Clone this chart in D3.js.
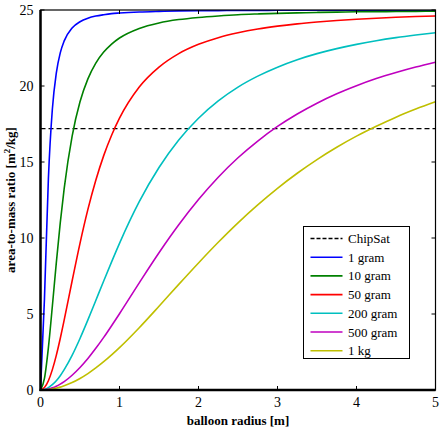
<!DOCTYPE html>
<html><head><meta charset="utf-8">
<script src="https://cdn.jsdelivr.net/npm/d3@7"></script>
<style>body{margin:0;background:#fff}svg{display:block}</style>
</head><body><svg id="c" width="442" height="430" font-family="Times New Roman"></svg>
<script>
const radius = [0,0.05,0.1,0.15,0.2,0.25,0.3,0.4,0.5,0.6,0.7,0.8,0.9,1.0,1.25,1.5,1.75,2.0,2.25,2.5,2.75,3.0,3.25,3.5,3.75,4.0,4.25,4.5,4.75,5.0];
const gram1   = [0,5.98,13.92,18.47,20.85,22.18,22.97,23.82,24.23,24.46,24.60,24.69,24.76,24.80,24.87,24.91,24.94,24.95,24.96,24.97,24.97,24.98,24.98,24.98,24.99,24.99,24.99,24.99,24.99,24.99];
const gram10  = [0,0.76,2.79,5.51,8.36,11.00,13.27,16.69,18.96,20.47,21.51,22.23,22.76,23.16,23.79,24.15,24.37,24.51,24.61,24.69,24.74,24.78,24.81,24.84,24.86,24.88,24.89,24.90,24.91,24.92];
const gram50  = [0,0.16,0.61,1.34,2.28,3.39,4.61,7.17,9.65,11.88,13.80,15.42,16.76,17.88,19.93,21.24,22.13,22.74,23.18,23.50,23.75,23.94,24.09,24.21,24.31,24.39,24.46,24.52,24.57,24.61];
const gram200 = [0,0.04,0.16,0.35,0.61,0.94,1.34,2.28,3.39,4.61,5.89,7.17,8.43,9.65,12.39,14.64,16.45,17.88,19.02,19.93,20.65,21.24,21.73,22.13,22.46,22.74,22.98,23.18,23.35,23.50];
const gram500 = [0,0.02,0.06,0.14,0.25,0.39,0.55,0.97,1.48,2.07,2.74,3.46,4.23,5.02,7.05,9.03,10.87,12.53,14.00,15.28,16.38,17.34,18.16,18.87,19.49,20.02,20.49,20.89,21.25,21.57];
const kg1     = [0,0.01,0.03,0.07,0.13,0.19,0.28,0.49,0.76,1.08,1.45,1.86,2.31,2.79,4.10,5.51,6.95,8.36,9.72,11.00,12.18,13.27,14.26,15.16,15.97,16.70,17.35,17.95,18.48,18.96];
const chipSat = 17.2;
const seriesNames = ["1 gram","10 gram","50 gram","200 gram","500 gram","1 kg"];
const seriesValues = [gram1,gram10,gram50,gram200,gram500,kg1];
const colors = ["#0000ff","#008000","#ff0000","#00bfbf","#bf00bf","#bfbf00"];
const xTicks = [0,1,2,3,4,5];
const yTicks = [0,5,10,15,20,25];

const FONT = "Times New Roman";
const svg = d3.select("#c");
const L = 40.5, T = 10, W = 395, H = 380;
const x = d3.scaleLinear().domain([0,5]).range([L, L+W]);
const y = d3.scaleLinear().domain([0,25]).range([T+H, T]);

svg.append("clipPath").attr("id","pc").append("rect").attr("x",L).attr("y",T).attr("width",W).attr("height",H);
const plot = svg.append("g").attr("clip-path","url(#pc)");

plot.append("line").attr("x1",x(0)).attr("x2",x(5)).attr("y1",y(chipSat)).attr("y2",y(chipSat))
  .attr("stroke","#000").attr("stroke-width",1.3).attr("stroke-dasharray","5,3");

const line = d3.line().curve(d3.curveMonotoneX).x((d,i)=>x(radius[i])).y(d=>y(d));
seriesValues.forEach((vals,k)=>{
  plot.append("path").datum(vals).attr("d",line).attr("fill","none")
    .attr("stroke",colors[k]).attr("stroke-width",1.6).attr("stroke-linejoin","round");
});

// ticks drawn from the scales (inside, mirrored on all sides)
const tk = svg.append("g").attr("stroke","#000").attr("stroke-width",1);
xTicks.forEach(v=>{
  tk.append("line").attr("x1",x(v)).attr("x2",x(v)).attr("y1",T+H).attr("y2",T+H-4);
  tk.append("line").attr("x1",x(v)).attr("x2",x(v)).attr("y1",T).attr("y2",T+4);
});
yTicks.forEach(v=>{
  tk.append("line").attr("x1",L).attr("x2",L+4).attr("y1",y(v)).attr("y2",y(v));
  tk.append("line").attr("x1",L+W).attr("x2",L+W-4).attr("y1",y(v)).attr("y2",y(v));
});
const tl = svg.append("g");
xTicks.forEach(v=>{
  tl.append("text").attr("x",x(v)).attr("y",T+H+17).attr("text-anchor","middle")
    .attr("font-family",FONT).attr("font-size",14).text(d3.format("d")(v));
});
yTicks.forEach(v=>{
  tl.append("text").attr("x",L-7).attr("y",y(v)+5).attr("text-anchor","end")
    .attr("font-family",FONT).attr("font-size",14).text(d3.format("d")(v));
});

svg.append("rect").attr("x",L).attr("y",T).attr("width",W).attr("height",H)
  .attr("fill","none").attr("stroke","#000").attr("stroke-width",1.2);
svg.append("line").attr("x1",L).attr("x2",L).attr("y1",T).attr("y2",T+H+1).attr("stroke","#000").attr("stroke-width",2.5);
svg.append("line").attr("x1",L-1).attr("x2",L+W).attr("y1",T+H).attr("y2",T+H).attr("stroke","#000").attr("stroke-width",2.5);

svg.append("text").attr("x",L+W/2).attr("y",425).attr("text-anchor","middle").attr("font-family",FONT)
  .attr("font-size",13).attr("font-weight","bold").text("balloon radius [m]");
const yt = svg.append("text").attr("transform",`translate(15,${T+H/2}) rotate(-90)`).attr("text-anchor","middle")
  .attr("font-family",FONT).attr("font-size",13).attr("font-weight","bold");
yt.append("tspan").text("area-to-mass ratio [m");
yt.append("tspan").attr("font-size",9).attr("dy",-5).text("2");
yt.append("tspan").attr("dy",5).text("/kg]");

const lg = svg.append("g");
lg.append("rect").attr("x",303.5).attr("y",226.5).attr("width",106).attr("height",132)
  .attr("fill","#fff").attr("stroke","#000").attr("stroke-width",1);
const legItems = [{name:"ChipSat",color:"#000",dash:"4,2"}].concat(seriesNames.map((n,i)=>({name:n,color:colors[i],dash:null})));
legItems.forEach((it,i)=>{
  const yy = 238.5 + i*18.7;
  lg.append("line").attr("x1",310.5).attr("x2",342.5).attr("y1",yy).attr("y2",yy)
    .attr("stroke",it.color).attr("stroke-width",it.dash?1.3:1.6).attr("stroke-dasharray",it.dash);
  lg.append("text").attr("x",348).attr("y",yy+4.5).attr("font-family",FONT).attr("font-size",13).text(it.name);
});
</script></body></html>
